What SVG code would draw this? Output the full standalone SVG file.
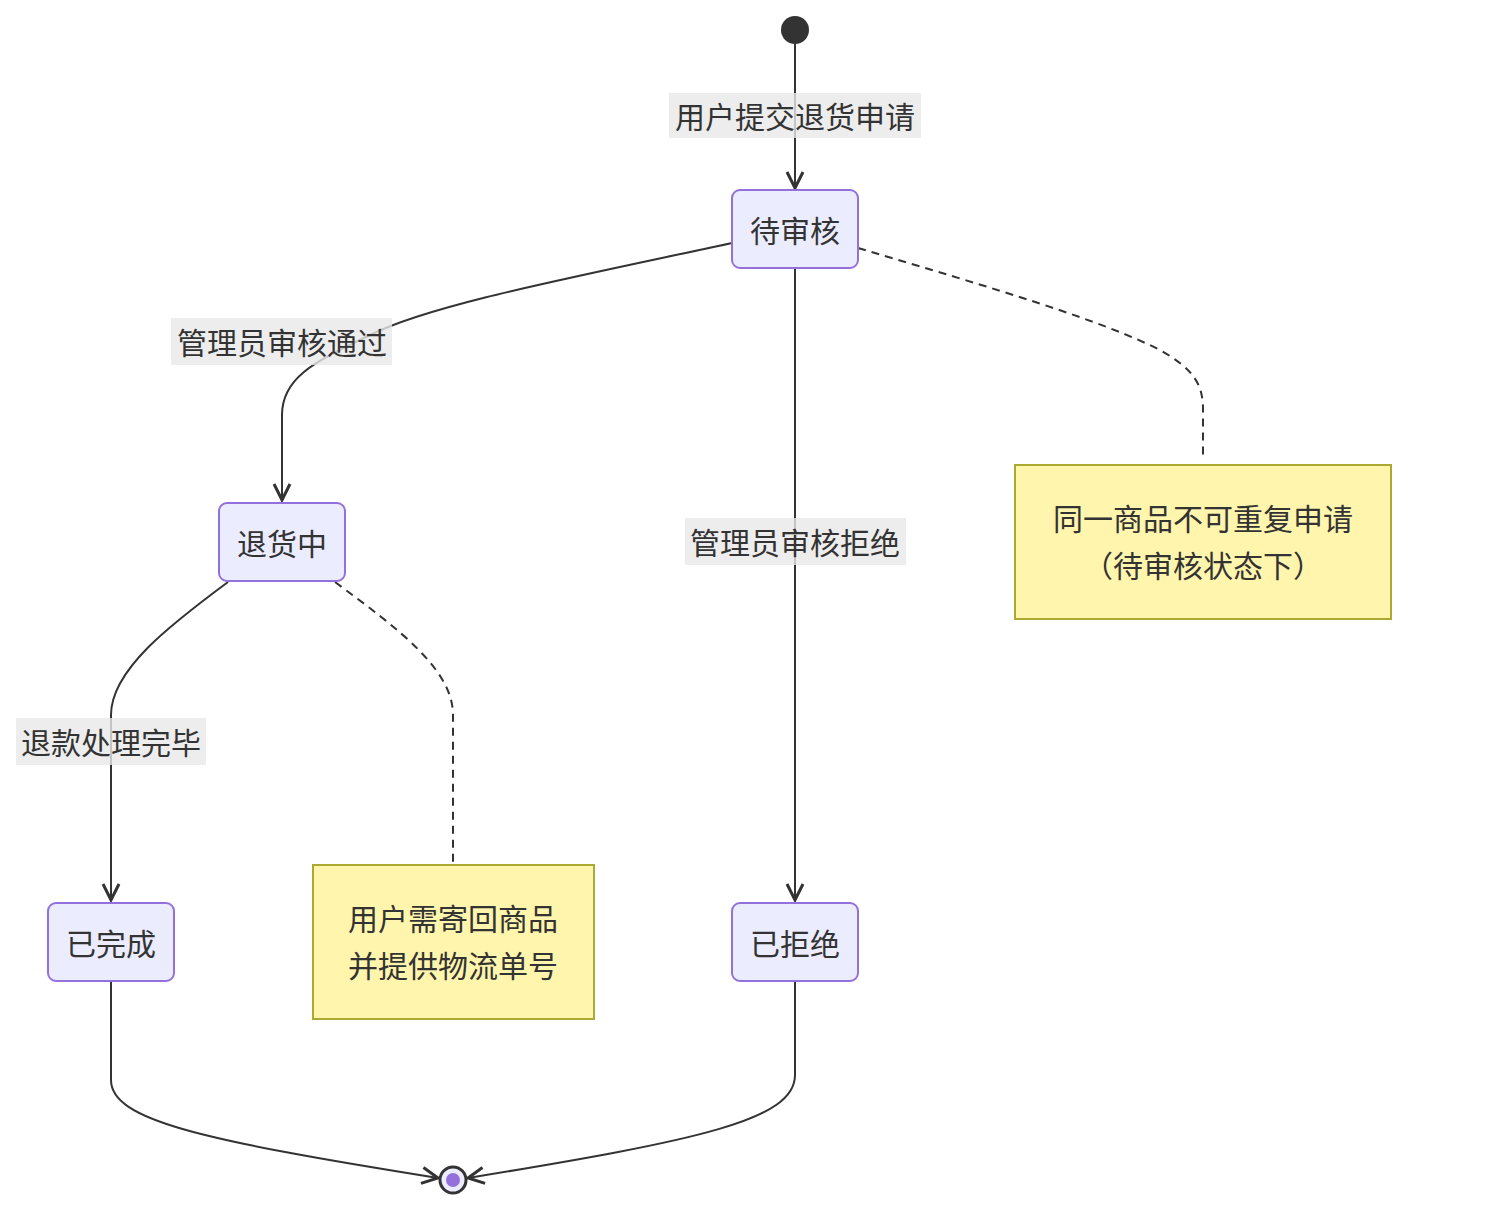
<svg xmlns="http://www.w3.org/2000/svg" width="1492" height="1224" viewBox="0 0 1492 1224">
<style>
.n{fill:#ECECFF;stroke:#9370DB;stroke-width:2}
.note{fill:#FFF5AD;stroke:#AAAA33;stroke-width:2}
.t{font-family:"Noto Sans CJK SC","Noto Sans",sans-serif;font-size:30px;fill:#333;text-anchor:middle;dominant-baseline:central}
.e{fill:none;stroke:#333;stroke-width:2}
.d{fill:none;stroke:#333;stroke-width:2;stroke-dasharray:8 6}
.lb{fill:#E8E8E8;opacity:0.8}
</style>
<defs>
<marker id="a" viewBox="0 0 20 20" refX="18" refY="10" markerWidth="20" markerHeight="20" markerUnits="userSpaceOnUse" orient="auto">
<path d="M2,2 L18,10 L2,18" fill="none" stroke="#333" stroke-width="3"/>
</marker>
</defs>
<rect width="1492" height="1224" fill="#fff"/>
<g id="edges">
<path class="e" d="M795,44 V188" marker-end="url(#a)"/>
<path class="e" d="M732,243 C560,280 430,305 370,335 C320,360 282,375 282,415 V500" marker-end="url(#a)"/>
<path class="e" d="M795,268 V900" marker-end="url(#a)"/>
<path class="d" d="M858,248 C1000,290 1100,320 1160,350 C1195,370 1203,385 1203,410 V460"/>
<path class="e" d="M228,582 C170,625 111,670 111,715 V900" marker-end="url(#a)"/>
<path class="d" d="M335,582 C400,630 453,670 453,715 V862"/>
<path class="e" d="M111,981 V1080 C111,1120 200,1140 438,1178" marker-end="url(#a)"/>
<path class="e" d="M795,981 V1075 C795,1120 700,1140 468,1178" marker-end="url(#a)"/>
<rect class="lb" x="669" y="93" width="252" height="45"/><text class="t" x="795" y="115">用户提交退货申请</text>
<rect class="lb" x="171" y="318" width="221" height="47"/><text class="t" x="282" y="341">管理员审核通过</text>
<rect class="lb" x="685" y="518" width="221" height="47"/><text class="t" x="795" y="541">管理员审核拒绝</text>
<rect class="lb" x="16" y="718" width="190" height="47"/><text class="t" x="111" y="741">退款处理完毕</text>
</g>
<g id="start"><circle cx="795" cy="30" r="14" fill="#333"/></g>
<g id="pending"><rect class="n" x="732" y="190" width="126" height="78" rx="8"/><text class="t" x="795" y="229">待审核</text></g>
<g id="returning"><rect class="n" x="219" y="503" width="126" height="78" rx="8"/><text class="t" x="282" y="542">退货中</text></g>
<g id="done"><rect class="n" x="48" y="903" width="126" height="78" rx="8"/><text class="t" x="111" y="942">已完成</text></g>
<g id="rejected"><rect class="n" x="732" y="903" width="126" height="78" rx="8"/><text class="t" x="795" y="942">已拒绝</text></g>
<g id="note1"><rect class="note" x="1015" y="465" width="376" height="154"/><text class="t" x="1203" y="517">同一商品不可重复申请</text><text class="t" x="1203" y="564">（待审核状态下）</text></g>
<g id="note2"><rect class="note" x="313" y="865" width="281" height="154"/><text class="t" x="453" y="917">用户需寄回商品</text><text class="t" x="453" y="964">并提供物流单号</text></g>
<g id="end"><circle cx="453" cy="1180" r="13" fill="#ECECFF" stroke="#333" stroke-width="3"/><circle cx="453" cy="1180" r="7" fill="#9370DB"/></g>
</svg>
